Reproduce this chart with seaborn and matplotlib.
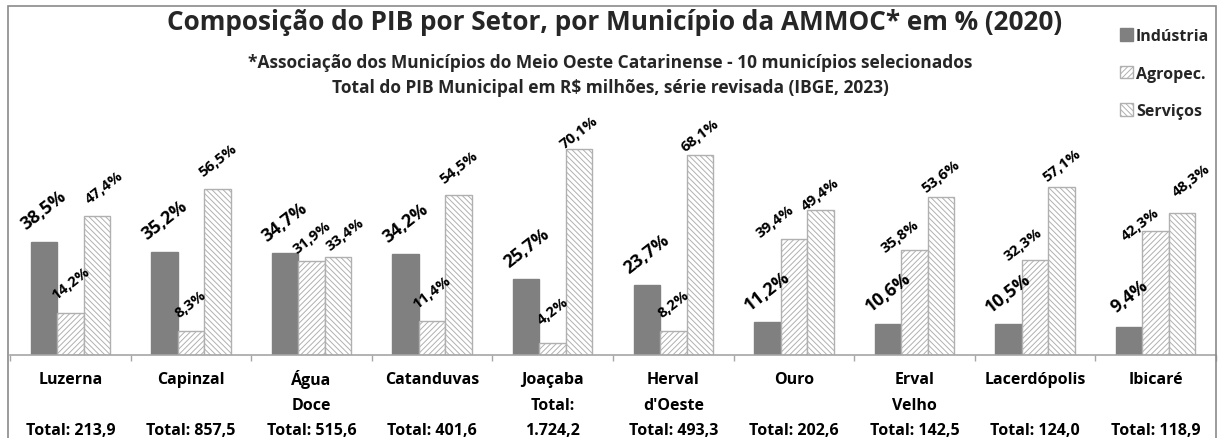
import matplotlib
matplotlib.use("Agg")
import matplotlib.pyplot as plt
import matplotlib.transforms as mtransforms
import seaborn as sns
import pandas as pd
from matplotlib.patches import Patch, Rectangle

municipios = ["Luzerna", "Capinzal", "Água Doce", "Catanduvas", "Joaçaba",
              "Herval d'Oeste", "Ouro", "Erval Velho", "Lacerdópolis", "Ibicaré"]
label_l1 = ["Luzerna", "Capinzal", "Água", "Catanduvas", "Joaçaba",
            "Herval", "Ouro", "Erval", "Lacerdópolis", "Ibicaré"]
label_l2 = ["", "", "Doce", "", "Total:", "d'Oeste", "", "Velho", "", ""]
label_l3 = ["Total: 213,9", "Total: 857,5", "Total: 515,6", "Total: 401,6", "1.724,2",
            "Total: 493,3", "Total: 202,6", "Total: 142,5", "Total: 124,0", "Total: 118,9"]
setores = ["Indústria", "Agropec.", "Serviços"]
industria = [38.5, 35.2, 34.7, 34.2, 25.7, 23.7, 11.2, 10.6, 10.5, 9.4]
agropec = [14.2, 8.3, 31.9, 11.4, 4.2, 8.2, 39.4, 35.8, 32.3, 42.3]
servicos = [47.4, 56.5, 33.4, 54.5, 70.1, 68.1, 49.4, 53.6, 57.1, 48.3]

# label offsets in pixels (dx, dy above bar top) per sector
off_ind = [(0, 32)] * 10
off_agro = [(0, 30), (0, 27), (0, 24), (0, 30), (0, 32), (0, 27),
            (-19, 18), (-15, 14), (-12, 16), (-15, 7)]
off_serv = [(7, 29), (0, 29), (7, 23), (0, 28), (0, 17), (0, 20),
            (0, 16), (0, 22), (0, 22), (9, 33)]

rows = []
for s, vals in zip(setores, [industria, agropec, servicos]):
    for m, v in zip(municipios, vals):
        rows.append({"Município": m, "Setor": s, "Valor": v})
df = pd.DataFrame(rows)

sns.set_theme(style="white")
FONT = ["Open Sans", "DejaVu Sans"]
plt.rcParams["font.family"] = FONT
plt.rcParams["font.weight"] = "bold"
plt.rcParams["hatch.linewidth"] = 0.7
plt.rcParams["hatch.color"] = "#8c8c8c"

W, H = 1219, 439
fig = plt.figure(figsize=(W / 100, H / 100), dpi=100)
base_y = 356
px_per_pct = 2.94
ymax = 80
top_y = base_y - px_per_pct * ymax
ax = fig.add_axes([10 / W, (H - base_y) / H, 1206 / W, (base_y - top_y) / H])

palette = {"Indústria": "#808080", "Agropec.": "white", "Serviços": "white"}
sns.barplot(data=df, x="Município", y="Valor", hue="Setor", order=municipios,
            hue_order=setores, palette=palette, width=0.66, gap=0,
            legend=False, ax=ax, errorbar=None, saturation=1)

styles = [dict(hatch=None, ec="#808080"),
          dict(hatch="//////", ec="#b0b0b0"),
          dict(hatch="\\\\\\\\\\\\", ec="#b0b0b0")]
for cont, st, vals, offs, si in zip(ax.containers, styles, [industria, agropec, servicos],
                                    [off_ind, off_agro, off_serv], range(3)):
    for bar, v, (dx, dy) in zip(cont, vals, offs):
        bar.set_edgecolor(st["ec"])
        bar.set_linewidth(1.0)
        if st["hatch"]:
            bar.set_hatch(st["hatch"])
        cx = bar.get_x() + bar.get_width() / 2
        fs = 13 if si == 0 else 10.8
        ax.annotate(f"{v:.1f}%".replace(".", ","), (cx, v), xytext=(dx, dy),
                    textcoords="offset pixels", ha="center", va="center",
                    rotation=38, fontsize=fs, fontweight="bold", color="black",
                    annotation_clip=False)

ax.set_ylim(0, ymax)
ax.set_xlim(-0.5, 9.5)
ax.set_yticks([])
ax.set_ylabel("")
ax.set_xlabel("")
for sp in ["left", "top", "right"]:
    ax.spines[sp].set_visible(False)
ax.spines["bottom"].set_color("#a6a6a6")
ax.spines["bottom"].set_linewidth(1.2)
ax.set_xticks(range(10))
ax.set_xticklabels([""] * 10)
ax.set_xticks([i - 0.5 for i in range(11)], minor=True)
ax.tick_params(axis="x", which="major", length=0)
ax.tick_params(axis="x", which="minor", length=4.5, color="#a6a6a6", width=1, bottom=True)

trans = mtransforms.blended_transform_factory(ax.transData, fig.transFigure)
for i in range(10):
    for txt, ypx in zip([label_l1[i], label_l2[i], label_l3[i]], [380, 406, 431]):
        if txt:
            ax.text(i, 1 - ypx / H, txt, transform=trans, ha="center", va="center",
                    fontsize=11.5, fontweight="bold", color="black", clip_on=False)

fig.text(615 / W, 1 - 23 / H, "Composição do PIB por Setor, por Município da AMMOC* em % (2020)",
         ha="center", va="center", fontsize=18.8, fontweight="bold")
fig.text(610 / W, 1 - 63 / H,
         "*Associação dos Municípios do Meio Oeste Catarinense - 10 municípios selecionados",
         ha="center", va="center", fontsize=12.5, fontweight="bold")
fig.text(610 / W, 1 - 88 / H,
         "Total do PIB Municipal em R$ milhões, série revisada (IBGE, 2023)",
         ha="center", va="center", fontsize=12.5, fontweight="bold")

handles = [Patch(facecolor="#808080", edgecolor="#808080", label="Indústria"),
           Patch(facecolor="white", edgecolor="#b0b0b0", hatch="//////", label="Agropec."),
           Patch(facecolor="white", edgecolor="#b0b0b0", hatch="\\\\\\\\\\\\", label="Serviços")]
fig.legend(handles=handles, loc="upper left", bbox_to_anchor=(1112 / W, 1 - 21 / H),
           frameon=False, handlelength=0.8, handleheight=0.8, handletextpad=0.2,
           labelspacing=1.35, prop={"size": 11.5, "weight": "bold"}, borderpad=0)

fig.patches.append(Rectangle((8 / W, -0.1), 1208 / W, 1.1 - 7 / H, transform=fig.transFigure,
                             fill=False, edgecolor="#8a8a8a", linewidth=1.2))

fig.savefig("out.png", dpi=100)
